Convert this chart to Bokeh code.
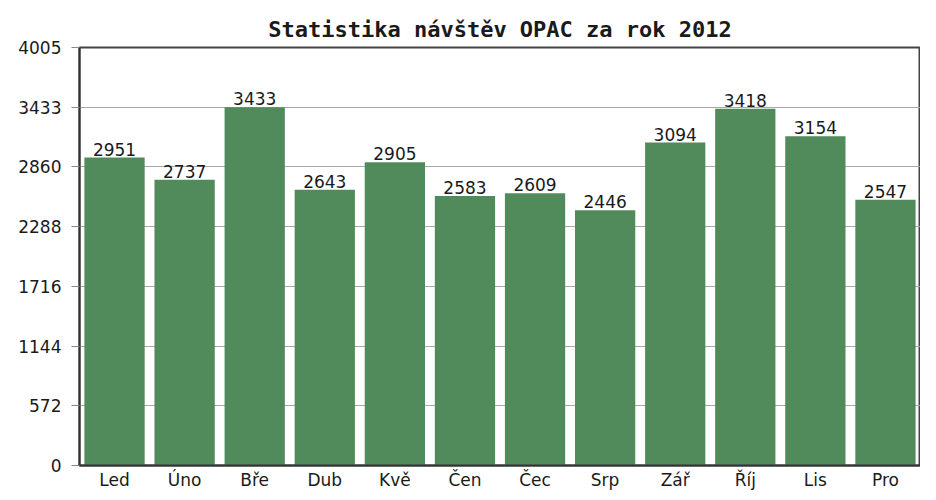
from bokeh.plotting import figure
from bokeh.models import FixedTicker, ColumnDataSource, FactorRange, Range1d
from bokeh.core.properties import value
from bokeh.embed import file_html
from bokeh.resources import INLINE

months = ["Led", "Úno", "Bře", "Dub", "Kvě", "Čen", "Čec", "Srp", "Zář", "Říj", "Lis", "Pro"]
visits = [2951, 2737, 3433, 2643, 2905, 2583, 2609, 2446, 3094, 3418, 3154, 2547]
y_max = 4005
y_ticks = [0, 572, 1144, 1716, 2288, 2860, 3433, 4005]
title_text = "Statistika návštěv OPAC za rok 2012"

src = ColumnDataSource(dict(m=months, v=visits, lab=[str(v) for v in visits]))

p = figure(width=920, height=492, x_range=FactorRange(*months, range_padding=0),
           y_range=Range1d(0, y_max), output_backend="svg", toolbar_location=None,
           title=title_text, min_border_left=79, min_border_right=0, min_border_top=47,
           min_border_bottom=0)

p.title.align = "center"
p.title.text_font = "DejaVu Sans Mono"
p.title.text_font_style = "bold"
p.title.text_font_size = "22px"
p.title.text_color = "#1a1a1a"
p.title.standoff = 12

p.vbar(x="m", top="v", width=0.86, source=src, fill_color="#518b5b", line_color=None)
p.text(x="m", y="v", text="lab", source=src, text_align="center", text_baseline="bottom",
       y_offset=-2, text_font=value("DejaVu Sans"), text_font_size="17px", text_color="#1a1a1a")

p.xgrid.visible = False
p.ygrid.grid_line_color = "#a8a8a8"
p.ygrid.grid_line_width = 1

p.yaxis.ticker = FixedTicker(ticks=[y_max * i / 7 for i in range(8)])
p.yaxis.major_label_overrides = {y_max * i / 7: str(t) for i, t in enumerate(y_ticks)}
p.yaxis.major_tick_out = 8
p.yaxis.major_tick_in = 0
p.yaxis.minor_tick_line_color = None
p.yaxis.major_tick_line_color = "#888888"
p.yaxis.axis_line_color = "#333333"
p.yaxis.axis_line_width = 2
p.yaxis.major_label_standoff = 10

p.xaxis.major_tick_out = 0
p.xaxis.major_tick_in = 0
p.xaxis.axis_line_color = "#333333"
p.xaxis.axis_line_width = 2
p.xaxis.major_label_standoff = 4

for ax in (p.xaxis, p.yaxis):
    ax.major_label_text_font = "DejaVu Sans"
    ax.major_label_text_font_size = "17px"
    ax.major_label_text_color = "#1a1a1a"

p.outline_line_color = "#444444"
p.outline_line_width = 2
p.background_fill_color = "white"
p.border_fill_color = "white"

open("out.html", "w").write(file_html(p, INLINE))
